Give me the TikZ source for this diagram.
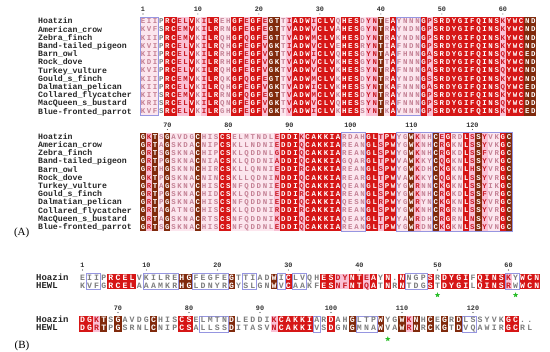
\documentclass[tikz,border=0pt]{standalone}
\usepackage{fontspec}
\setmainfont{Liberation Serif}
\setmonofont{Liberation Mono}
\usetikzlibrary{shapes.geometric}
\definecolor{espred}{RGB}{214,22,22}
\definecolor{espbrown}{RGB}{128,42,12}
\definecolor{esppink}{RGB}{250,192,212}
\definecolor{esplight}{RGB}{252,230,238}
\definecolor{espframe}{RGB}{150,150,225}
\definecolor{lettred}{RGB}{200,25,35}
\definecolor{lettlight}{RGB}{196,128,148}
\definecolor{lettgray}{RGB}{125,125,125}
\definecolor{stargreen}{RGB}{40,190,40}

\ExplSyntaxOn
\int_new:N \l_rs_i_int
\str_new:N \l_rs_code_str
\str_new:N \l_rs_codes_str
\str_new:N \l_rs_seq_str
\tl_new:N \l_rs_x_tl
\NewDocumentCommand \RSCols { m m m m m }
 {
  \int_zero:N \l_rs_i_int
  \str_set:Nx \l_rs_codes_str {#5}
  \str_map_inline:Nn \l_rs_codes_str
   {
    \tl_set:Nx \l_rs_x_tl { \fp_eval:n { #1 + \l_rs_i_int * #2 } }
    \exp_args:NV \RSColBG \l_rs_x_tl {#2} {#3} {#4} {##1}
    \int_incr:N \l_rs_i_int
   }
 }
\NewDocumentCommand \RSRow { m m m m m m }
 {
  \int_zero:N \l_rs_i_int
  \str_set:Nx \l_rs_codes_str {#5}
  \str_set:Nx \l_rs_seq_str {#4}
  \str_map_inline:Nn \l_rs_seq_str
   {
    \int_incr:N \l_rs_i_int
    \str_set:Nx \l_rs_code_str { \str_item:Nn \l_rs_codes_str { \l_rs_i_int } }
    \tl_set:Nx \l_rs_x_tl { \fp_eval:n { #1 + ( \l_rs_i_int - 1 ) * #2 } }
    \exp_args:NVV \RSCell \l_rs_x_tl \l_rs_code_str {#3} {##1} {#6}
   }
 }
\ExplSyntaxOff

\newcount\rscellno
\newcommand\RSColBG[5]{\fill[bg#5] ({#1-#2/2},#3) rectangle ({#1+#2/2},#4);}
\newcommand\RSCell[5]{\global\advance\rscellno by 1\relax\node[#5,txt#2] (cell\the\rscellno) at (#1,#3) {#4};}
\newcommand\RSFrame[6]{\draw[espframebox] ({#1+(#3-1)*#2-#2/2},#5) rectangle ({#1+(#4-1)*#2+#2/2},#6);}
\newcommand\RSNum[6]{\node[numlab] (#6) at ({#1+(#3-1)*#2},#4) {#5};
  \fill[black!75] ({#1+(#3-1)*#2},#4+4.5) circle (0.55);}

\def\codeAa{LLLWRRPPRLPRRLLRRPRRPBBLPRRRPRRRLRRRLPPBLRLLLLRPRRRRRRRRRRRPRRRBB}
\def\codeAb{BPBLBLLLLBLLLRRLLLLLLLPRRRPRRRRRRLLLLRRPRRLLBPLLBPRLLRPBPLLRB}
\def\codeBa{WWWWRRRRWWWWWWBBWWWWWBWWWWWBWRWWWWRRPPRRPRWRWRWWWRWRRRRWRRRRPWRRR}
\def\codeBb{RRPBWBWWWWBWWWRRWWWWWBWWWWWPRRRRRWWRWWBWWWBWWBPBWBWBWBWWWWWWRRWW}

\begin{document}
\begin{tikzpicture}[x=1pt,y=-1pt,
  cellA/.style={inner sep=0pt,font=\ttfamily\bfseries\fontsize{7.4}{7.4}\selectfont,text height=4.6pt,text depth=0pt},
  cellB/.style={inner sep=0pt,font=\ttfamily\bfseries\fontsize{8.2}{8.2}\selectfont,text height=5.1pt,text depth=0pt},
  txtR/.style={text=white}, txtB/.style={text=white}, txtP/.style={text=lettred},
  txtL/.style={text=lettlight}, txtW/.style={text=lettgray},
  bgR/.style={fill=espred}, bgB/.style={fill=espbrown}, bgP/.style={fill=esppink},
  bgL/.style={fill=esplight}, bgW/.style={fill=white},
  espframebox/.style={draw=espframe,line width=0.6pt},
  nameA/.style={anchor=west,inner sep=0pt,font=\ttfamily\bfseries\fontsize{8.2}{8.2}\selectfont,text height=5pt,text depth=0pt,text=black!85},
  nameB/.style={anchor=west,inner sep=0pt,font=\ttfamily\bfseries\fontsize{9}{9}\selectfont,text height=5.5pt,text depth=0pt,text=black!85},
  numlab/.style={inner sep=0pt,font=\ttfamily\bfseries\fontsize{6.8}{6.8}\selectfont,text=black!80},
  panel/.style={inner sep=0pt,font=\fontsize{11}{11}\selectfont},
  greenstar/.style={star,star points=5,star point ratio=2.3,fill=stargreen,draw=none,inner sep=0pt,minimum size=5.5pt}]
\useasboundingbox (0,0) rectangle (550,352);
\fill[white] (0,0) rectangle (550,352);

% ---------------- Panel A, block 1 ----------------
\RSCols{143}{6.1}{17.4}{115.8}{\codeAa}
\RSFrame{143}{6.1}{1}{3}{17.4}{115.8}
\RSFrame{143}{6.1}{43}{46}{17.4}{115.8}
\foreach \c/\t [count=\k] in {1/1,10/10,20/20,30/30,40/40,50/50,60/60}
  {\RSNum{143}{6.1}{\c}{9.5}{\t}{na\k}}
\RSRow{143}{6.1}{21.5}{EIIPRCELVKILREHGFEGFEGTTIADWICLVQHESDYNTEAYNNNGPSRDYGIFQINSKYWCND}{\codeAa}{cellA}
\RSRow{143}{6.1}{29.7}{KVFSRCEMVKILRRNGFEGFEGTTVADWVCLVAHESGYNTRAYNDNGPSRDYGIFQINSKYWCND}{\codeAa}{cellA}
\RSRow{143}{6.1}{37.9}{KIIPRCEMVKILRQHGFQGFEGTTVADWMCLVKHESDYNTRAYNDNGPSRDYGIFQINSKYWCND}{\codeAa}{cellA}
\RSRow{143}{6.1}{46.1}{KVIPRCELVKILRQHGFEGFVGKTIADWVCLVEHESRYNTIAFNDNGPSRDYGIFQINSKYWCND}{\codeAa}{cellA}
\RSRow{143}{6.1}{54.3}{KIIPRCELVKILRRHGFEGFVGTTVADWICLVQHESGYNTAAFHNNGASRDYGIFQINSQYWCED}{\codeAa}{cellA}
\RSRow{143}{6.1}{62.5}{KDIPRCELVKILRRHGFEGFVGKTVADWVCLVKHESGYNTTAFNNNGPSRDYGIFQINSKYWCND}{\codeAa}{cellA}
\RSRow{143}{6.1}{70.7}{KVIPRCELVKILRQHGFEGFVGKTVADWVCLVKHESSYNTRAFNNNGASRDYGIFQINSQYWCND}{\codeAa}{cellA}
\RSRow{143}{6.1}{78.9}{KIIPRCEMVKILRQKGFQGFEGTTVADWMCLVKHESDYNTRAYNDNGSSRDYGIFQINSKYWCND}{\codeAa}{cellA}
\RSRow{143}{6.1}{87.1}{KIIPRCELVKILRQHGFEGFVGKTVADWICLVKHESSYNTKAFNNNGASRDYGIFQINSQYWCED}{\codeAa}{cellA}
\RSRow{143}{6.1}{95.3}{KITSRCEMVKILRRNGFQGFEGTTVADWMCLVKHESDYNTRAYNNNGPSRDYGIFQINSKYWCND}{\codeAa}{cellA}
\RSRow{143}{6.1}{103.5}{KRISRCELVKILRQNGFEGFVGKTVADWVCLVQHESSYNTRAFNNNGPSRDYGIFQINSQYWCDD}{\codeAa}{cellA}
\RSRow{143}{6.1}{111.7}{KVFSRCELVKILRGHGFEGFVGKTVADWICLVKHESSYNTKAVNNNGPSRDYGIFQINSKYWCED}{\codeAa}{cellA}

% ---------------- Panel A, block 2 ----------------
\RSCols{143}{6.1}{132.8}{231.2}{\codeAb}
\RSFrame{143}{6.1}{34}{37}{132.8}{231.2}
\RSFrame{143}{6.1}{43}{48}{132.8}{231.2}
\RSFrame{143}{6.1}{49}{61}{132.8}{231.2}
\foreach \c/\t [count=\k] in {5/70,15/80,25/90,35/100,45/110,55/120}
  {\RSNum{143}{6.1}{\c}{125}{\t}{nb\k}}
\RSRow{143}{6.1}{136.9}{GKTSGAVDGCHISCSELMTNDLEDDIKCAKKIARDAHGLTPWYGWKNHCEGRDLSSYVKGC}{\codeAb}{cellA}
\RSRow{143}{6.1}{145.1}{GRTAGSKDACNIPCSKLLNDNIEDDIQCAKKIAREANGLSPWYGWKNHCRGKNLSSYVKGC}{\codeAb}{cellA}
\RSRow{143}{6.1}{153.3}{GRTSGSKNACHIPCSKLQDDNLGDDIQCAKKIAREANGLSPWYGWKNHCRGKDLSSFVRGC}{\codeAb}{cellA}
\RSRow{143}{6.1}{161.5}{GRTPGSKNACNIACSKLQDDNIADDIQCAKKIAGQARGLTPWVAWKKYCQGKNLSSYVKGC}{\codeAb}{cellA}
\RSRow{143}{6.1}{169.7}{GRTHGSKNNCHIRCSKLLQNNIEDDIRCAKKIAREANGLSPWYGWKDHCKGKNLHSYVRGC}{\codeAb}{cellA}
\RSRow{143}{6.1}{177.9}{GKTPGSKNACNINCSKLLQDNINDDIQCAKKIAREARGLTPWVAWKKYCQGKNLSSYVRGC}{\codeAb}{cellA}
\RSRow{143}{6.1}{186.1}{GRTAGSKNVCHISCSNFQDDNIEDDIQCAKKIAQEANGLSPWYGWRNNCKGKNLSSYIKGC}{\codeAb}{cellA}
\RSRow{143}{6.1}{194.3}{GRTPGSKNACHIDCSKLQDDNLEDDIRCAKKIAREANGLSPWYGWKNHCRGKDLSSFVRGC}{\codeAb}{cellA}
\RSRow{143}{6.1}{202.5}{GRTPGSKNACHISCSNFQDDNIEDDIQCAKKIAQESNGLRPWYGWRYNCKGKNLSSYVRGC}{\codeAb}{cellA}
\RSRow{143}{6.1}{210.7}{GRTAGATNGCHISCSKLQDDNIRDDIRCAKKIAREANGLSPWYGWKNHCRGRNLSSYVRGC}{\codeAb}{cellA}
\RSRow{143}{6.1}{218.9}{GRTAGSKNACRTSCSNFQDDNIKDDIQCAKKIAQEAKGLTPWYAWRDHCRGRNLNSYVRGC}{\codeAb}{cellA}
\RSRow{143}{6.1}{227.1}{GRTSGSKNACHISCSNFQDDNLEDDIQCAKKIAREANGLTPWYGWRDNCKGKNLSSYVNGC}{\codeAb}{cellA}

% names, panel A
\foreach \n [count=\k] in {Hoatzin,American\_crow,Zebra\_finch,Band-tailed\_pigeon,Barn\_owl,Rock\_dove,Turkey\_vulture,Gould\_s\_finch,Dalmatian\_pelican,Collared\_flycatcher,MacQueen\_s\_bustard,Blue-fronted\_parrot}
 {\node[nameA] (nameA\k) at (38,{21.5+(\k-1)*8.2}) {\n};
  \node[nameA] (nameAb\k) at (38,{136.9+(\k-1)*8.2}) {\n};}
\node[panel] (labA) at (21.7,233) {(A)};

% ---------------- Panel B, block 1 ----------------
\RSCols{82.5}{7.1}{273.65}{289.45}{\codeBa}
\RSFrame{82.5}{7.1}{2}{3}{273.65}{289.45}
\RSFrame{82.5}{7.1}{10}{14}{273.65}{289.45}
\RSFrame{82.5}{7.1}{17}{21}{273.65}{289.45}
\RSFrame{82.5}{7.1}{24}{25}{273.65}{289.45}
\RSFrame{82.5}{7.1}{29}{29}{273.65}{289.45}
\RSFrame{82.5}{7.1}{31}{32}{273.65}{289.45}
\RSFrame{82.5}{7.1}{47}{49}{273.65}{289.45}
\RSFrame{82.5}{7.1}{61}{62}{273.65}{289.45}
\foreach \c/\t [count=\k] in {1/1,10/10,20/20,30/30,40/40,51/50,61/60}
  {\RSNum{82.5}{7.1}{\c}{265.5}{\t}{nc\k}}
\RSRow{82.5}{7.1}{277.6}{EIIPRCELVKILREHGFEGFEGTTIADWICLVQHESDYNTEAYN.NNGPSRDYGIFQINSKYWCN}{\codeBa}{cellB}
\RSRow{82.5}{7.1}{285.5}{KVFGRCELAAAMKRHGLDNYRGYSLGNWVCAAKFESNFNTQATNRNTDGSTDYGILQINSRWWCN}{\codeBa}{cellB}
\node[nameB] (nameB1) at (36,277.6) {Hoazin};
\node[nameB] (nameB2) at (36,285.5) {HEWL};
\node[greenstar] (star1) at (437.5,295) {};
\node[greenstar] (star2) at (515.6,295) {};

% ---------------- Panel B, block 2 ----------------
\RSCols{82.5}{7.1}{316.25}{332.05}{\codeBb}
\RSFrame{82.5}{7.1}{18}{21}{316.25}{332.05}
\RSFrame{82.5}{7.1}{34}{34}{316.25}{332.05}
\RSFrame{82.5}{7.1}{40}{42}{316.25}{332.05}
\RSFrame{82.5}{7.1}{55}{56}{316.25}{332.05}
\foreach \c/\t [count=\k] in {6/70,16/80,26/90,36/100,46/110,56/120}
  {\RSNum{82.5}{7.1}{\c}{308}{\t}{nd\k}}
\RSRow{82.5}{7.1}{320.2}{DGKTSGAVDGCHISCSELMTNDLEDDIKCAKKIARDAHGLTPWYGWKNHCEGRDLSSYVKGC..}{\codeBb}{cellB}
\RSRow{82.5}{7.1}{328.1}{DGRTPGSRNLCNIPCSALLSSDITASVNCAKKIVSDGNGMNAWVAWRNRCKGTDVQAWIRGCRL}{\codeBb}{cellB}
\node[nameB] (nameB3) at (36,320.2) {Hoazin};
\node[nameB] (nameB4) at (36,328.1) {HEWL};
\node[greenstar] (star3) at (387.8,339) {};
\node[panel] (labB) at (22,346) {(B)};
\end{tikzpicture}
\end{document}
